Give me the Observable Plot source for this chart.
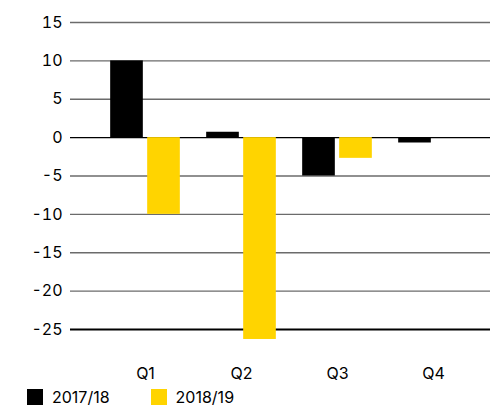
<!DOCTYPE html>
<html>
<head>
<meta charset="utf-8">
<script src="https://cdn.jsdelivr.net/npm/d3@7"></script>
<script src="https://cdn.jsdelivr.net/npm/@observablehq/plot@0.6"></script>
<style>
  html, body { margin: 0; padding: 0; background: #fff; }
  body { width: 494px; height: 406px; overflow: hidden; font-family: Inter, "Liberation Sans", sans-serif; }
  #chart svg { display: block; }
  #legend { display: flex; align-items: center; margin-top: 4px; padding-left: 27px; font-size: 16px; line-height: 16px; color: #000; }
  .item { display: flex; align-items: center; margin-right: 41px; }
  .sw { width: 16px; height: 16px; margin-right: 9px; }
</style>
</head>
<body>
<div id="chart"></div>
<div id="legend"></div>
<script>
const quarters = ["Q1", "Q2", "Q3", "Q4"];
const seriesNames = ["2017/18", "2018/19"];
const values1718 = [10, 0.7, -5, -0.7];
const values1819 = [-10, -26.3, -2.7, 0];
const yTicks = [15, 10, 5, 0, -5, -10, -15, -20, -25];
const colors = ["#000000", "#ffd400"];

const d1 = quarters.map((q, i) => ({quarter: q, value: values1718[i]}));
const d2 = quarters.map((q, i) => ({quarter: q, value: values1819[i]}));

const inset = 31.67;
const chart = Plot.plot({
  width: 494,
  height: 385,
  marginLeft: 70,
  marginRight: 4,
  marginTop: 22,
  marginBottom: 56,
  style: {fontFamily: "Inter, 'Liberation Sans', sans-serif", fontSize: "16px", color: "#000", background: "#fff"},
  x: {domain: quarters, paddingInner: 0, paddingOuter: 0.18, align: 0.74, label: null},
  y: {domain: [-25, 15], label: null},
  marks: [
    Plot.ruleY(yTicks.filter(t => t !== 0 && t !== -25), {stroke: "#6b6b6b", strokeWidth: 1.3}),
    Plot.ruleY([0], {stroke: "#000", strokeWidth: 1.3}),
    Plot.ruleY([-25], {stroke: "#000", strokeWidth: 1.8}),
    Plot.barY(d1, {x: "quarter", y: "value", fill: colors[0], dx: -18.5, insetLeft: inset, insetRight: inset}),
    Plot.barY(d2, {x: "quarter", y: "value", fill: colors[1], dx: 18.5, insetLeft: inset, insetRight: inset}),
    Plot.axisY({ticks: yTicks, tickSize: 0, tickPadding: 8, tickFormat: d => String(d), fontSize: 16}),
    Plot.axisX({tickSize: 0, tickPadding: 38, fontSize: 16})
  ]
});
document.getElementById("chart").appendChild(chart);

const legend = document.getElementById("legend");
seriesNames.forEach((name, i) => {
  const item = document.createElement("div");
  item.className = "item";
  const sw = document.createElement("div");
  sw.className = "sw";
  sw.style.background = colors[i];
  const label = document.createElement("span");
  label.textContent = name;
  item.appendChild(sw);
  item.appendChild(label);
  legend.appendChild(item);
});
</script>
</body>
</html>
